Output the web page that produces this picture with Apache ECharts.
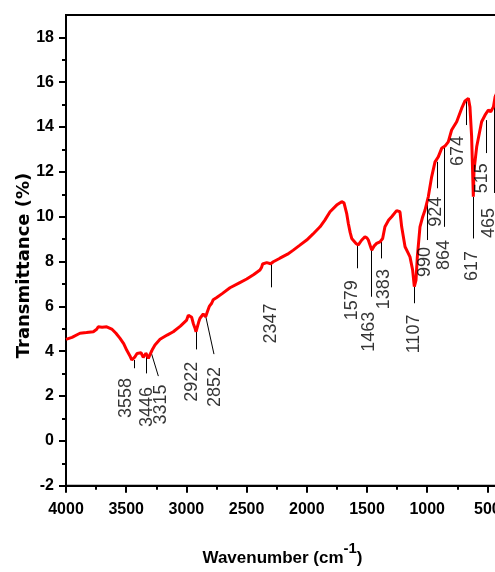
<!DOCTYPE html>
<html>
<head>
<meta charset="utf-8">
<script src="https://cdn.jsdelivr.net/npm/echarts@6/dist/echarts.min.js"></script>
<style>
html,body{margin:0;padding:0;background:#fff;}
#chart{width:495px;height:572px;}
</style>
</head>
<body>
<div id="chart"></div>
<script>
// Spectrum: [wavenumber (cm-1), transmittance (%)]
const spectrum = [
[4000,4.53],[3950,4.62],[3884,4.80],[3830,4.83],[3773,4.87],[3745,4.98],[3732,5.09],[3700,5.07],[3662,5.09],[3620,4.99],[3585,4.80],[3551,4.57],[3520,4.33],[3496,4.05],[3470,3.80],[3454,3.61],[3440,3.66],[3427,3.75],[3410,3.90],[3399,3.98],[3377,3.93],[3358,3.73],[3346,3.82],[3336,3.91],[3326,3.80],[3316,3.68],[3297,3.91],[3280,4.10],[3261,4.28],[3219,4.53],[3160,4.72],[3109,4.87],[3050,5.12],[2998,5.39],[2984,5.61],[2970,5.60],[2956,5.51],[2943,5.24],[2930,5.05],[2920,4.87],[2909,5.09],[2898,5.30],[2887,5.47],[2860,5.66],[2840,5.54],[2826,5.76],[2810,6.00],[2790,6.14],[2777,6.30],[2748,6.40],[2700,6.58],[2638,6.83],[2560,7.05],[2499,7.22],[2440,7.42],[2389,7.62],[2375,7.75],[2367,7.89],[2333,7.95],[2300,7.90],[2278,7.99],[2223,8.15],[2160,8.33],[2112,8.51],[2060,8.72],[2001,8.96],[1950,9.22],[1890,9.55],[1850,9.85],[1807,10.22],[1752,10.52],[1710,10.67],[1697,10.74],[1691,10.62],[1669,10.15],[1655,9.70],[1640,9.30],[1627,9.03],[1614,8.96],[1591,8.81],[1572,8.74],[1545,8.95],[1517,9.11],[1500,9.05],[1489,8.96],[1461,8.51],[1440,8.70],[1420,8.81],[1392,8.88],[1370,9.03],[1351,9.55],[1320,9.85],[1295,10.00],[1254,10.27],[1226,10.22],[1212,9.55],[1184,8.66],[1160,8.40],[1143,8.21],[1121,7.62],[1107,6.88],[1093,7.17],[1082,8.21],[1060,9.55],[1040,9.95],[1018,10.30],[991,10.89],[963,11.78],[935,12.45],[908,12.67],[880,13.05],[852,13.15],[825,13.34],[797,13.87],[755,14.24],[714,14.83],[686,15.17],[672,15.24],[658,15.28],[645,14.90],[631,13.57],[620,11.50],[617,10.89],[611,12.08],[589,13.12],[548,14.24],[520,14.53],[492,14.76],[472,14.68],[450,14.90],[436,15.35],[400,15.80]
];

// Peak annotations
const peakLabels = ['3558','3446','3315','2922','2852','2347','1579','1463','1383','1107','990','924','864','674','617','515','465'];
// label anchor (centre) in axis units
const labelX = [3502,3330,3213,2953,2762,2297,1627,1479,1360,1110,1021,927,860,744,624,541,487];
const labelY = [1.91,1.51,1.62,2.64,2.40,5.24,6.27,4.87,6.77,4.77,7.98,10.22,8.29,12.93,7.80,11.72,9.72];
// leader lines: start (x1,y1) -> end (x2,y2) in axis units
const leadX1 = [3435,3336,3297,2920,2840,2292,1577,1461,1378,1107,996,913,858,675,620,506,443];
const leadY1 = [3.61,3.93,4.02,4.87,5.57,7.89,8.74,8.51,8.96,6.88,10.74,12.45,13.12,15.20,10.89,14.31,15.43];
const leadX2 = [3435,3336,3233,2920,2771,2292,1577,1461,1378,1107,996,913,858,675,620,506,443];
const leadY2 = [3.24,3.01,2.89,4.08,3.87,6.85,7.70,6.43,8.14,6.14,8.96,11.27,9.55,14.09,9.03,12.84,11.06];

const yMajorTicks = [-2,0,2,4,6,8,10,12,14,16,18];
const yMinorTicks = [-1,1,3,5,7,9,11,13,15,17];

const chart = echarts.init(document.getElementById('chart'), null, {renderer:'canvas'});

const tickFont = {fontFamily:"'Liberation Sans',Arial,sans-serif", fontWeight:'bold', fontSize:16, color:'#000'};

const leaderData = peakLabels.map((t,i)=>({coords:[[leadX1[i],leadY1[i]],[leadX2[i],leadY2[i]]]}));
const labelData = peakLabels.map((t,i)=>[labelX[i],labelY[i],t]);

chart.setOption({
  animation:false,
  grid:{left:66, top:15, width:481.6, height:470.7, show:true, borderColor:'#000', borderWidth:2,
        backgroundColor:'transparent', containLabel:false, outerBoundsMode:'none'},
  xAxis:{
    type:'value', inverse:true, min:0, max:4000, interval:500,
    axisLine:{show:true, onZero:false, lineStyle:{color:'#000', width:2}},
    axisTick:{show:true, inside:false, length:7, lineStyle:{color:'#000', width:2}},
    minorTick:{show:true, splitNumber:2, length:4, lineStyle:{color:'#000', width:2}},
    splitLine:{show:false},
    axisLabel:Object.assign({margin:16, formatter:v=>String(v), hideOverlap:false}, tickFont)
  },
  yAxis:[{
    type:'value', min:-2, max:19,
    axisLine:{show:true, onZero:false, lineStyle:{color:'#000', width:2}},
    axisTick:{show:true, inside:false, length:7, customValues:yMajorTicks, lineStyle:{color:'#000', width:2}},
    splitLine:{show:false},
    axisLabel:Object.assign({margin:12, customValues:yMajorTicks, formatter:v=>String(v)}, tickFont)
  },{
    type:'value', min:-2, max:19, position:'left', offset:0,
    axisLine:{show:false, onZero:false},
    axisTick:{show:true, inside:false, length:4, customValues:yMinorTicks, lineStyle:{color:'#000', width:2}},
    splitLine:{show:false},
    axisLabel:{show:false}
  }],
  graphic:[
    {type:'text', x:24, y:265.5, rotation:Math.PI/2,
     style:{text:'Transmittance (%)', fontFamily:"'DejaVu Sans',sans-serif", fontWeight:'bold', fontSize:18, fill:'#000', textAlign:'center', textVerticalAlign:'middle'}},
    {type:'text', x:282.5, y:554,
     style:{text:'{b|Wavenumber (cm}{s|-1}{b|)}', textAlign:'center', textVerticalAlign:'middle',
       rich:{
         b:{fontFamily:"'Liberation Sans',Arial,sans-serif", fontWeight:'bold', fontSize:17, fill:'#000', lineHeight:26, verticalAlign:'bottom'},
         s:{fontFamily:"'Liberation Sans',Arial,sans-serif", fontWeight:'bold', fontSize:15, fill:'#000', lineHeight:26, verticalAlign:'top'}
       }}}
  ],
  series:[
    {type:'line', data:spectrum, showSymbol:false, symbol:'none', clip:true,
     lineStyle:{color:'#ff0000', width:3}, z:3},
    {type:'lines', coordinateSystem:'cartesian2d', data:leaderData, symbol:'none',
     lineStyle:{color:'#000', width:1, opacity:1}, z:2},
    {type:'scatter', data:labelData, symbolSize:0, z:4,
     label:{show:true, position:'inside', rotate:90, formatter:p=>p.value[2],
       fontFamily:"'Liberation Sans',Arial,sans-serif", fontSize:18, color:'#000', align:'center', verticalAlign:'middle'}}
  ]
});
</script>
</body>
</html>
